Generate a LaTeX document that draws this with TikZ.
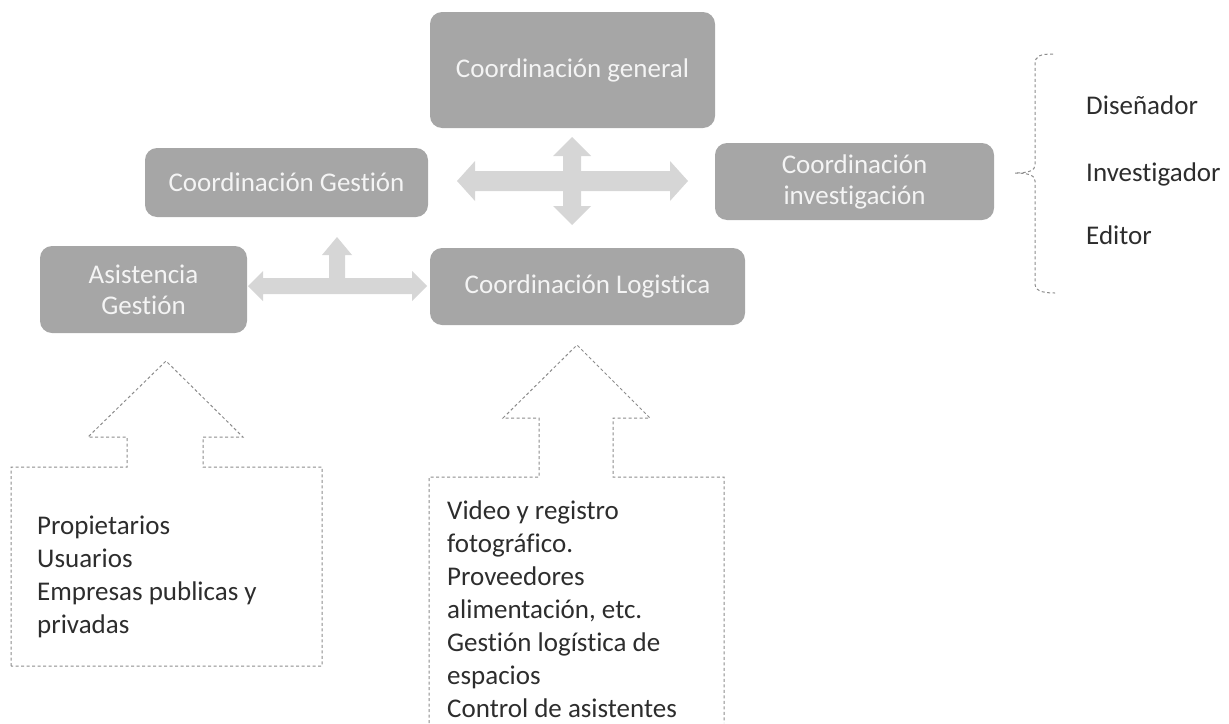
\documentclass[tikz,border=0pt]{standalone}
\usepackage{fontspec}
\setmainfont[Ligatures={NoCommon,NoRare}]{Carlito}
\definecolor{boxgray}{RGB}{166,166,166}
\definecolor{arrgray}{RGB}{214,214,214}
\definecolor{dashgray}{RGB}{140,140,140}
\definecolor{txtdark}{RGB}{45,45,45}
\definecolor{txtlight}{RGB}{244,244,244}
\begin{document}
\begin{tikzpicture}[x=1pt,y=-1pt,
  box/.style={fill=boxgray, rounded corners=12pt, draw=none, inner sep=0pt,
    text=txtlight, align=center, font=\fontsize{27}{31}\selectfont},
  blockarrow/.style={fill=arrgray, draw=none},
  dsh/.style={draw=dashgray, line width=1pt, dash pattern=on 3pt off 2.5pt},
  dark/.style={text=txtdark, inner sep=0pt, anchor=base west, font=\fontsize{27}{33}\selectfont}]
\useasboundingbox (0,0) rectangle (1229,723);

% block arrows
\path[blockarrow] (457,181) -- (475,161) -- (475,171) -- (670,171) -- (670,161) -- (688,181)
  -- (670,201) -- (670,191) -- (475,191) -- (475,201) -- cycle;
\path[blockarrow] (572,137) -- (591,156) -- (581,156) -- (581,206) -- (591,206) -- (572,225)
  -- (553,206) -- (563,206) -- (563,156) -- (553,156) -- cycle;
\path[blockarrow] (248,286) -- (263,271) -- (263,278) -- (329,278) -- (329,255) -- (322,255)
  -- (337,237) -- (352,255) -- (345,255) -- (345,278) -- (412,278) -- (412,271) -- (427,286)
  -- (412,301) -- (412,294) -- (263,294) -- (263,301) -- cycle;

% boxes
\node[box, minimum width=285pt, minimum height=116pt] (gen) at (572.5,70) {Coordinación general};
\node[box, minimum width=283pt, minimum height=69pt] (ges) at (286.5,182.5) {Coordinación Gestión};
\node[box, minimum width=279pt, minimum height=77pt] (inv) at (854.5,181.5) {Coordinación\\investigación};
\node[box, minimum width=207pt, minimum height=87pt] (asi) at (143.5,289.5) {Asistencia\\Gestión};
\node[box, minimum width=315pt, minimum height=77pt] (log) at (587.5,286.5) {Coordinación Logistica};

% dashed callouts
\draw[dsh] (11,666) -- (11,467) -- (127,467) -- (127,437) -- (88,437) -- (166,361) -- (243,437)
  -- (203,437) -- (203,467) -- (322,467) -- (322,666) -- cycle;
\draw[dsh] (429,723) -- (429,477) -- (539,477) -- (539,418) -- (503,418) -- (577,345) -- (650,418)
  -- (613,418) -- (613,477) -- (724,477) -- (724,723);

% brace
\draw[dsh] (1053,54) .. controls (1040,54) and (1035,56) .. (1035,64) -- (1035,165)
  .. controls (1035,170) and (1030,173) .. (1015,173);
\draw[dsh] (1015,173) .. controls (1030,173) and (1035,176) .. (1035,181) -- (1035,283)
  .. controls (1035,290) and (1040,293) .. (1055,293);

% texts left
\node[dark] (l1) at (37,534) {Propietarios};
\node[dark] (l2) at (37,567) {Usuarios};
\node[dark] (l3) at (37,600) {Empresas publicas y};
\node[dark] (l4) at (37,633) {privadas};

% texts middle
\node[dark] (m1) at (447,519) {Video y registro};
\node[dark] (m2) at (447,552) {fotográfico.};
\node[dark] (m3) at (447,585) {Proveedores};
\node[dark] (m4) at (447,618) {alimentación, etc.};
\node[dark] (m5) at (447,651) {Gestión logística de};
\node[dark] (m6) at (447,684) {espacios};
\node[dark] (m7) at (447,717) {Control de asistentes};

% texts right
\node[dark] (r1) at (1086,114) {Diseñador};
\node[dark] (r2) at (1086,181) {Investigador};
\node[dark] (r3) at (1086,244) {Editor};
\end{tikzpicture}
\end{document}
